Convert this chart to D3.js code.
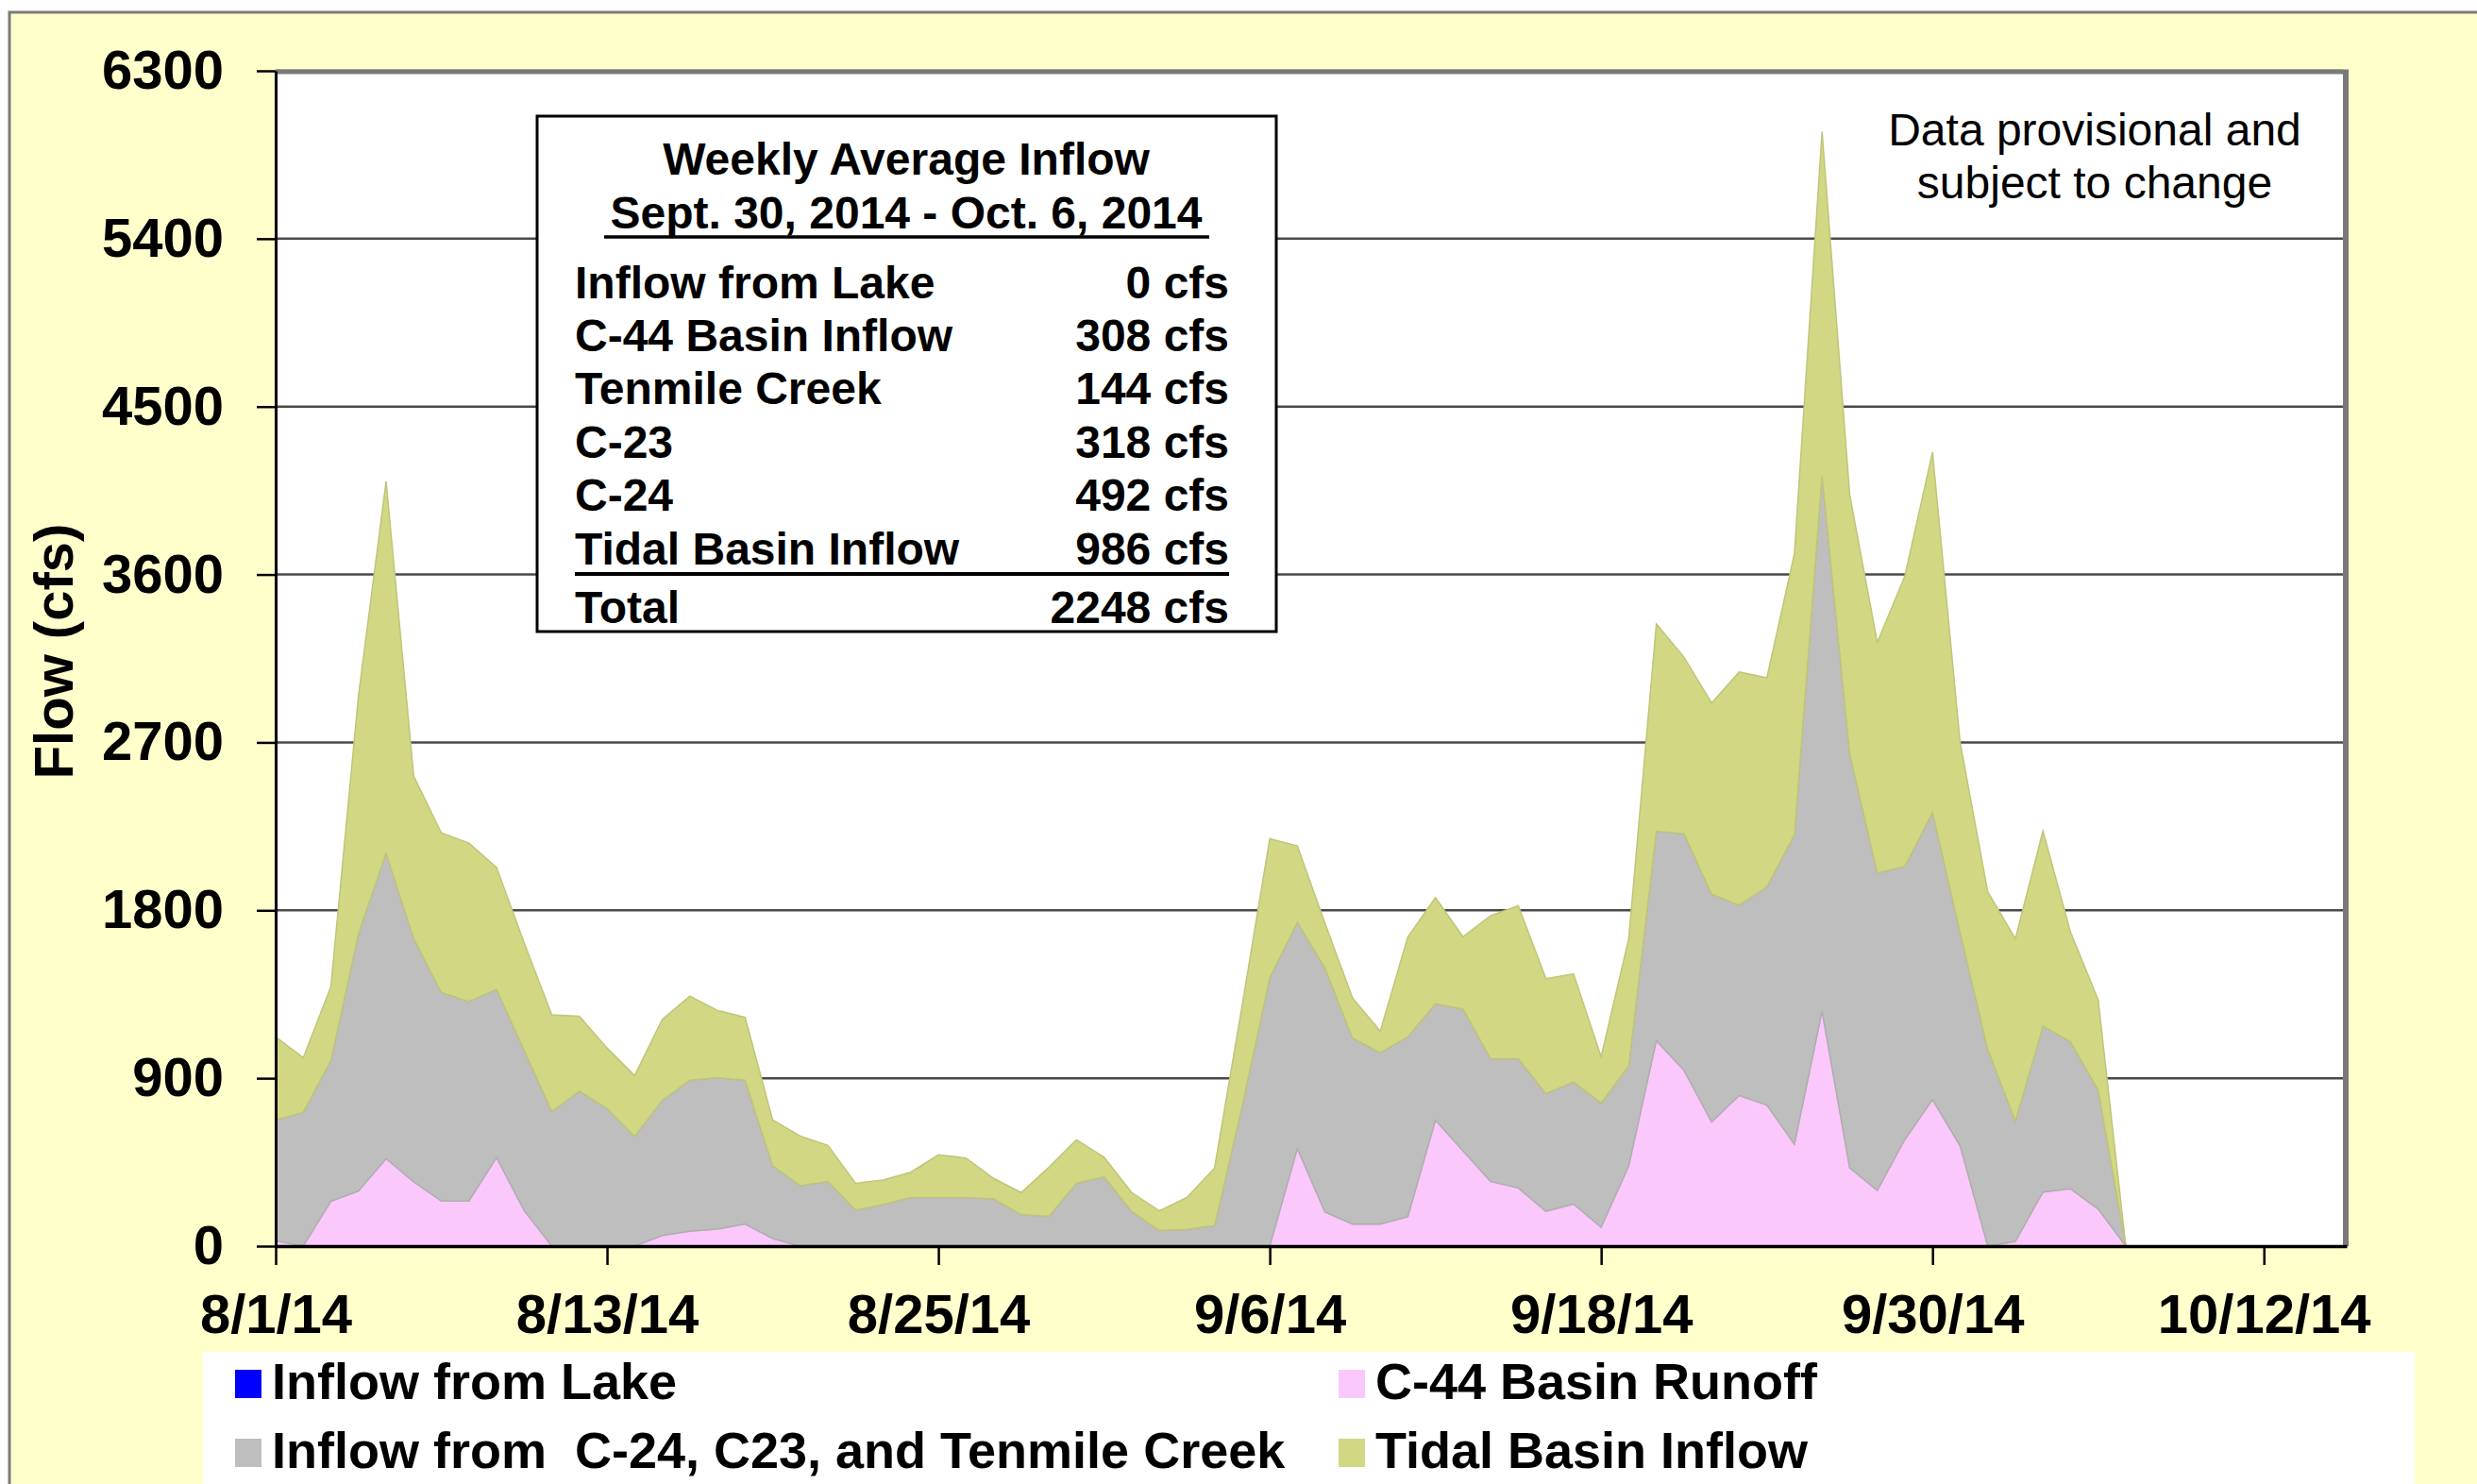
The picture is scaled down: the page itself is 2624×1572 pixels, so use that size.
<!DOCTYPE html>
<html>
<head>
<meta charset="utf-8">
<script src="https://cdn.jsdelivr.net/npm/d3@7"></script>
<style>
  body { margin: 0; background: #ffffff; }
  svg { display: block; font-family: "Liberation Sans", Arial, sans-serif; }
</style>
</head>
<body>
<div id="chart"></div>
<script>
const startDate = new Date(2014, 7, 1);
const endDate = new Date(2014, 9, 15);

// daily values, 8/1/14 onward (cfs)
const lakeInflow = [
  0, 0, 0, 0, 0, 0, 0, 0, 0, 0, 0, 0, 0, 0, 0, 0, 0,
  0, 0, 0, 0, 0, 0, 0, 0, 0, 0, 0, 0, 0, 0, 0, 0, 0,
  0, 0, 0, 0, 0, 0, 0, 0, 0, 0, 0, 0, 0, 0, 0, 0, 0,
  0, 0, 0, 0, 0, 0, 0, 0, 0, 0, 0, 0, 0, 0, 0, 0, 0,
];
const c44Runoff = [
  28, 0, 240, 295, 468, 344, 242, 242, 475, 190, 0, 0, 0, 0, 57, 80, 91,
  119, 40, 0, 0, 0, 0, 0, 0, 0, 0, 0, 0, 0, 0, 0, 0, 0,
  0, 0, 0, 523, 182, 118, 118, 158, 675, 510, 346, 312, 186, 225, 101, 430,
  1101, 942, 665, 807, 756, 546, 1260, 419, 298, 572, 785, 537, 0, 25, 290, 307, 198, 0,
];
const basinInflow = [
  648, 718, 755, 1380, 1639, 1304, 1118, 1069, 902, 860, 722, 830, 738, 588, 724, 809, 812,
  770, 390, 324, 346, 194, 223, 261, 261, 261, 253, 169, 160, 337, 371, 186, 84, 90,
  110, 750, 1440, 1214, 1308, 997, 919, 964, 624, 760, 658, 692, 632, 655, 666, 535,
  1123, 1269, 1222, 1020, 1170, 1658, 2868, 2221, 1702, 1464, 1540, 1143, 1055, 645, 890, 788, 638, 0,
];
const tidalInflow = [
  445, 292, 395, 1275, 1993, 872, 855, 849, 653, 575, 518, 402, 324, 326, 434, 451, 360,
  337, 246, 266, 194, 143, 131, 135, 228, 211, 110, 118, 262, 233, 105, 101, 105, 171,
  308, 540, 744, 408, 240, 215, 115, 535, 569, 388, 767, 821, 616, 580, 248, 683,
  1111, 946, 1024, 1250, 1120, 1508, 1846, 1389, 1236, 1557, 1931, 1020, 845, 978, 1045, 587, 484, 0,
];

const yTicks = [0, 900, 1800, 2700, 3600, 4500, 5400, 6300];
const xTickDates = d3.timeDay.range(startDate, endDate, 12);

const seriesKeys = ["lake", "c44", "basin", "tidal"];
const seriesColors = {
  lake: "#0000ff",
  c44: "#fbc8fb",
  basin: "#bebebe",
  tidal: "#d2d784",
};

const boxTitle = "Weekly Average Inflow";
const boxPeriod = "Sept. 30, 2014 - Oct. 6, 2014";
const boxLabels = ["Inflow from Lake", "C-44 Basin Inflow", "Tenmile Creek", "C-23", "C-24", "Tidal Basin Inflow", "Total"];
const boxValues = ["0 cfs", "308 cfs", "144 cfs", "318 cfs", "492 cfs", "986 cfs", "2248 cfs"];

const legendItems = [
  { key: "lake", label: "Inflow from Lake" },
  { key: "c44", label: "C-44 Basin Runoff" },
  { key: "basin", label: "Inflow from  C-24, C23, and Tenmile Creek" },
  { key: "tidal", label: "Tidal Basin Inflow" },
];

const data = lakeInflow.map((v, i) => ({
  date: d3.timeDay.offset(startDate, i),
  lake: v,
  c44: c44Runoff[i],
  basin: basinInflow[i],
  tidal: tidalInflow[i],
}));

const W = 2624, H = 1572;
const plot = { left: 292, top: 75, right: 2486, bottom: 1320 };

const svg = d3.select("#chart")
  .append("svg")
  .attr("width", W)
  .attr("height", H);

svg.append("rect")
  .attr("x", 10).attr("y", 13)
  .attr("width", W + 20).attr("height", H + 20)
  .attr("fill", "#ffffcc")
  .attr("stroke", "#7a7a7a")
  .attr("stroke-width", 3);

svg.append("rect")
  .attr("x", plot.left).attr("y", plot.top)
  .attr("width", plot.right - plot.left)
  .attr("height", plot.bottom - plot.top)
  .attr("fill", "#ffffff");

const x = d3.scaleTime().domain([startDate, endDate]).range([plot.left, plot.right]);
const y = d3.scaleLinear().domain([0, 6300]).range([plot.bottom, plot.top]);

svg.append("g")
  .selectAll("line")
  .data(yTicks.filter((t) => t > 0))
  .enter()
  .append("line")
  .attr("x1", plot.left)
  .attr("x2", plot.right - 4)
  .attr("y1", (d) => y(d))
  .attr("y2", (d) => y(d))
  .attr("stroke", "#4a4a4a")
  .attr("stroke-width", 2.5);

const stacked = d3.stack().keys(seriesKeys)(data);

const area = d3.area()
  .x((d) => x(d.data.date))
  .y0((d) => y(d[0]))
  .y1((d) => y(d[1]));

svg.append("g")
  .selectAll("path")
  .data(stacked)
  .enter()
  .append("path")
  .attr("fill", (d) => seriesColors[d.key])
  .attr("stroke", (d) => d3.color(seriesColors[d.key]).darker(0.25))
  .attr("stroke-width", 1.5)
  .attr("d", area);

// plot frame, top and right
svg.append("line")
  .attr("x1", plot.left).attr("x2", plot.right + 2)
  .attr("y1", plot.top + 1).attr("y2", plot.top + 1)
  .attr("stroke", "#7a7a7a")
  .attr("stroke-width", 5);
svg.append("line")
  .attr("x1", plot.right - 1).attr("x2", plot.right - 1)
  .attr("y1", plot.top - 1).attr("y2", plot.bottom)
  .attr("stroke", "#7a7a7a")
  .attr("stroke-width", 6);

const yAxis = svg.append("g")
  .attr("transform", `translate(${plot.left},0)`)
  .call(
    d3.axisLeft(y)
      .tickValues(yTicks)
      .tickSize(20)
      .tickSizeOuter(0)
      .tickPadding(35)
      .tickFormat(d3.format("d"))
  );
yAxis.select(".domain").attr("stroke", "#000").attr("stroke-width", 3);
yAxis.selectAll(".tick line").attr("stroke", "#000").attr("stroke-width", 2.5);
yAxis.selectAll(".tick text")
  .attr("fill", "#000")
  .style("font-size", "58px")
  .style("font-weight", "bold")
  .style("font-family", "'Liberation Sans', Arial, sans-serif");

const xAxis = svg.append("g")
  .attr("transform", `translate(0,${plot.bottom})`)
  .call(
    d3.axisBottom(x)
      .tickValues(xTickDates)
      .tickSize(20)
      .tickSizeOuter(0)
      .tickPadding(31)
      .tickFormat(d3.timeFormat("%-m/%-d/%y"))
  );
xAxis.select(".domain").attr("stroke", "#000").attr("stroke-width", 3.5);
xAxis.selectAll(".tick line").attr("stroke", "#000").attr("stroke-width", 2.5);
xAxis.selectAll(".tick text")
  .attr("fill", "#000")
  .style("font-size", "58px")
  .style("font-weight", "bold")
  .style("font-family", "'Liberation Sans', Arial, sans-serif");

svg.append("text")
  .attr("transform", "translate(77,690) rotate(-90)")
  .attr("text-anchor", "middle")
  .style("font-size", "58px")
  .style("font-weight", "bold")
  .text("Flow (cfs)");

// weekly summary box
const box = svg.append("g");
box.append("rect")
  .attr("x", 569).attr("y", 123)
  .attr("width", 783).attr("height", 546)
  .attr("fill", "#ffffff")
  .attr("stroke", "#000")
  .attr("stroke-width", 3);
box.append("text")
  .attr("x", 960).attr("y", 185)
  .attr("text-anchor", "middle")
  .style("font-size", "48px")
  .style("font-weight", "bold")
  .text(boxTitle);
box.append("text")
  .attr("x", 960).attr("y", 242)
  .attr("text-anchor", "middle")
  .style("font-size", "48px")
  .style("font-weight", "bold")
  .text(boxPeriod);
box.append("line")
  .attr("x1", 640).attr("x2", 1281)
  .attr("y1", 251).attr("y2", 251)
  .attr("stroke", "#000")
  .attr("stroke-width", 3.5);

const rowY = [316, 372, 428, 485, 541, 598, 660];
box.selectAll(".box-label")
  .data(boxLabels)
  .enter()
  .append("text")
  .attr("class", "box-label")
  .attr("x", 609)
  .attr("y", (d, i) => rowY[i])
  .style("font-size", "48px")
  .style("font-weight", "bold")
  .text((d) => d);
box.selectAll(".box-value")
  .data(boxValues)
  .enter()
  .append("text")
  .attr("class", "box-value")
  .attr("x", 1302)
  .attr("y", (d, i) => rowY[i])
  .attr("text-anchor", "end")
  .style("font-size", "48px")
  .style("font-weight", "bold")
  .text((d) => d);
box.append("line")
  .attr("x1", 609).attr("x2", 1302)
  .attr("y1", 608).attr("y2", 608)
  .attr("stroke", "#000")
  .attr("stroke-width", 4);

svg.append("text")
  .attr("x", 2219).attr("y", 154)
  .attr("text-anchor", "middle")
  .style("font-size", "48px")
  .text("Data provisional and");
svg.append("text")
  .attr("x", 2219).attr("y", 210)
  .attr("text-anchor", "middle")
  .style("font-size", "48px")
  .text("subject to change");

// legend
svg.append("rect")
  .attr("x", 215).attr("y", 1432)
  .attr("width", 2343).attr("height", 150)
  .attr("fill", "#ffffff");

const legendPos = [
  { x: 249, y: 1482 },
  { x: 1418, y: 1482 },
  { x: 249, y: 1555 },
  { x: 1418, y: 1555 },
];
const legend = svg.append("g")
  .selectAll("g")
  .data(legendItems)
  .enter()
  .append("g")
  .attr("transform", (d, i) => `translate(${legendPos[i].x},${legendPos[i].y})`);
legend.append("rect")
  .attr("x", 0).attr("y", -31)
  .attr("width", 28).attr("height", 30)
  .attr("fill", (d) => seriesColors[d.key]);
legend.append("text")
  .attr("x", 39).attr("y", 0)
  .style("font-size", "54px")
  .style("font-weight", "bold")
  .style("white-space", "pre")
  .text((d) => d.label);
</script>
</body>
</html>
